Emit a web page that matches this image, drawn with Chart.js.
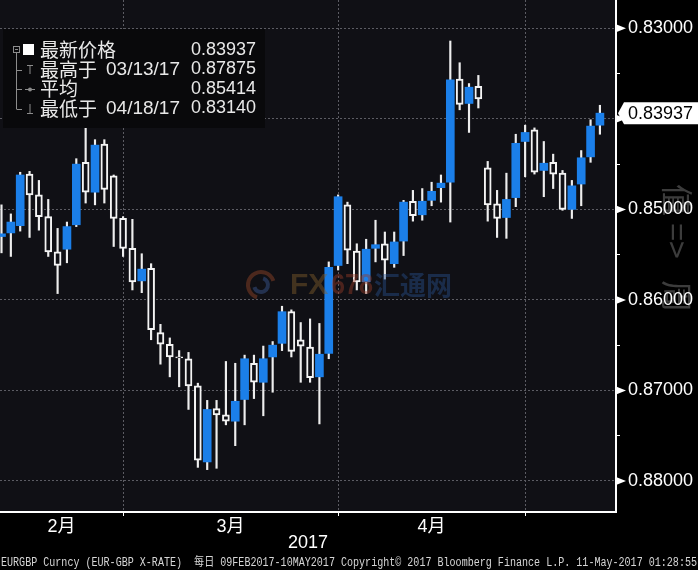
<!DOCTYPE html>
<html>
<head>
<meta charset="utf-8">
<script src="https://cdn.jsdelivr.net/npm/chart.js@4/dist/chart.umd.min.js"></script>
<style>
  html, body { margin: 0; padding: 0; background: #000; }
</style>
</head>
<body>
<canvas id="fxChart" width="698" height="570"></canvas>
<script>
////////// Data //////////
const dates = [
  '02/09', '02/10', '02/13', '02/14', '02/15', '02/16', '02/17', '02/20', '02/21', '02/22',
  '02/23', '02/24', '02/27', '02/28',
  '03/01', '03/02', '03/03', '03/06', '03/07', '03/08', '03/09', '03/10', '03/13', '03/14',
  '03/15', '03/16', '03/17', '03/20', '03/21', '03/22', '03/23', '03/24', '03/27', '03/28',
  '03/29', '03/30', '03/31',
  '04/03', '04/04', '04/05', '04/06', '04/07', '04/10', '04/11', '04/12', '04/13', '04/14',
  '04/17', '04/18', '04/19', '04/20', '04/21', '04/24', '04/25', '04/26', '04/27', '04/28',
  '05/01', '05/02', '05/03', '05/04', '05/05', '05/08', '05/09', '05/10'
]
const opens = [
  0.8530, 0.8526, 0.8518, 0.8461, 0.8484, 0.8508, 0.8547, 0.8544, 0.8517, 0.8448,
  0.8481, 0.8428, 0.8463, 0.8510, 0.8543, 0.8579, 0.8565, 0.8636, 0.8649, 0.8663,
  0.8665, 0.8695, 0.8779, 0.8720, 0.8727, 0.8734, 0.8710, 0.8670, 0.8691, 0.8663,
  0.8648, 0.8613, 0.8644, 0.8652, 0.8685, 0.8659, 0.8562, 0.8495, 0.8546, 0.8580,
  0.8543, 0.8538, 0.8560, 0.8535, 0.8491, 0.8506, 0.8490, 0.8476, 0.8470, 0.8356,
  0.8383, 0.8364, 0.8454, 0.8494, 0.8509, 0.8487, 0.8425, 0.8412, 0.8457, 0.8448,
  0.8460, 0.8500, 0.8472, 0.8442, 0.8407
]
const highs = [
  0.8548, 0.8552, 0.8524, 0.8531, 0.8523, 0.8552, 0.8593, 0.8559, 0.8519, 0.8493,
  0.8495, 0.8493, 0.8541, 0.8552, 0.8589, 0.8592, 0.8644, 0.8671, 0.8685, 0.8696,
  0.8721, 0.8785, 0.87875, 0.8786, 0.8738, 0.8761, 0.8738, 0.8709, 0.8728, 0.8702,
  0.8656, 0.8663, 0.8691, 0.8691, 0.8737, 0.8665, 0.8567, 0.8560, 0.8589, 0.8593,
  0.8558, 0.8577, 0.8564, 0.8551, 0.8513, 0.8512, 0.8496, 0.8492, 0.8514, 0.8390,
  0.8415, 0.8388, 0.8513, 0.8531, 0.8532, 0.8497, 0.8464, 0.8461, 0.8486, 0.8477,
  0.8501, 0.8510, 0.8496, 0.8448, 0.8417
]
const lows = [
  0.8495, 0.8505, 0.8459, 0.8458, 0.8468, 0.8489, 0.8521, 0.8514, 0.8444, 0.8403,
  0.8423, 0.8423, 0.8462, 0.8508, 0.8511, 0.8549, 0.8560, 0.8627, 0.8642, 0.8656,
  0.8658, 0.8692, 0.8711, 0.8711, 0.8668, 0.8670, 0.8661, 0.8661, 0.8651, 0.8646,
  0.8607, 0.8611, 0.8625, 0.8621, 0.8626, 0.8558, 0.8484, 0.8492, 0.8538, 0.8533,
  0.8512, 0.8525, 0.8525, 0.8490, 0.8479, 0.8477, 0.8470, 0.8462, 0.8314, 0.8338,
  0.8361, 0.8352, 0.8447, 0.8479, 0.8460, 0.8417, 0.8407, 0.8410, 0.8425, 0.8439,
  0.8457, 0.8468, 0.8435, 0.8401, 0.8385
]
const closes = [
  0.8527, 0.8514, 0.8462, 0.8484, 0.8508, 0.8547, 0.8562, 0.8519, 0.8450, 0.8481,
  0.8429, 0.8478, 0.8510, 0.8543, 0.8580, 0.8566, 0.8633, 0.8649, 0.8663, 0.8664,
  0.8695, 0.8777, 0.8721, 0.8727, 0.8734, 0.8712, 0.8665, 0.8691, 0.8665, 0.8650,
  0.8613, 0.8657, 0.8651, 0.8686, 0.8660, 0.8564, 0.8486, 0.8545, 0.8580, 0.8544,
  0.8539, 0.8556, 0.8536, 0.8492, 0.8507, 0.8491, 0.8480, 0.8471, 0.8357, 0.8384,
  0.8365, 0.8378, 0.8495, 0.8510, 0.8489, 0.8427, 0.8415, 0.8459, 0.8449, 0.8461,
  0.8500, 0.8474, 0.8443, 0.8408, 0.83937
]
const monthLabels = ['2月', '3月', '4月']
const priceTicks = [0.83, 0.84, 0.85, 0.86, 0.87, 0.88]
const legendRows = [
  ['最新价格', '', '0.83937'],
  ['最高于', '03/13/17', '0.87875'],
  ['平均', '', '0.85414'],
  ['最低于', '04/18/17', '0.83140']
]
const yearLabel = '2017'
const footerText = 'EURGBP Curncy (EUR-GBP X-RATE)  每日 09FEB2017-10MAY2017 Copyright© 2017 Bloomberg Finance L.P. 11-May-2017 01:28:55'

////////// Look //////////
const plotBg = '#101015'
const gridColor = '#5c5c63'
const upBlue = '#1b7fe9'
const latin = '"Liberation Sans", "Noto Sans CJK SC", sans-serif'
const cjk = '"Noto Sans CJK SC", "Liberation Sans", sans-serif'
const xMin = -0.16
const xMax = 65.72

// last trading day of each month -> dotted separators
const monthEnds = dates.map((d, i) => i).filter(i =>
  i < dates.length - 1 && dates[i].slice(0, 2) !== dates[i + 1].slice(0, 2))
const monthCenters = monthLabels.map((_, k) =>
  ((k === 0 ? xMin : monthEnds[k - 1]) + monthEnds[k]) / 2)
const minorTicks = priceTicks.slice(1).map((p, i) => (p + priceTicks[i]) / 2)

const isMonthEnd = v => monthEnds.some(m => Math.abs(m - v) < 1e-6)
const isMajor = v => priceTicks.some(p => Math.abs(p - v) < 1e-7)

const fallers = dates.map((d, i) => i).filter(i => closes[i] < opens[i])
const risers = dates.map((d, i) => i).filter(i => closes[i] >= opens[i])

noPadding = s => {
  s.paddingTop = 0
  s.paddingBottom = 0
  s.paddingLeft = 0
  s.paddingRight = 0
}

////////// Extra drawing //////////
drawBackground = chart => {
  const {ctx, chartArea: a} = chart
  ctx.save()
  ctx.fillStyle = '#000'
  ctx.fillRect(0, 0, chart.width, chart.height)
  ctx.fillStyle = plotBg
  ctx.fillRect(a.left, a.top, a.right - a.left, a.bottom - a.top)
  // faint rotated text on the right side
  ctx.translate(677, 184)
  ctx.rotate(Math.PI / 2)
  ctx.fillStyle = 'rgba(120, 120, 120, 0.5)'
  ctx.font = '32px ' + cjk
  ctx.textBaseline = 'middle'
  ctx.fillText('值 =>   周', 0, 0)
  ctx.restore()
}

drawWatermark = chart => {
  const ctx = chart.ctx
  ctx.save()
  ctx.lineWidth = 4
  ctx.strokeStyle = 'rgba(150, 70, 40, 0.45)'
  ctx.beginPath()
  ctx.arc(261, 285, 13, Math.PI * 0.6, Math.PI * 1.9)
  ctx.stroke()
  ctx.strokeStyle = 'rgba(60, 90, 150, 0.45)'
  ctx.beginPath()
  ctx.arc(261, 285, 7, Math.PI * 1.6, Math.PI * 2.9)
  ctx.stroke()
  ctx.textBaseline = 'middle'
  ctx.font = 'bold 30px ' + latin
  ctx.fillStyle = 'rgba(130, 95, 45, 0.45)'
  ctx.fillText('FX', 290, 286, 40)
  ctx.fillStyle = 'rgba(150, 60, 40, 0.45)'
  ctx.fillText('678', 331, 286, 42)
  ctx.font = 'bold 26px ' + cjk
  ctx.fillStyle = 'rgba(40, 80, 140, 0.45)'
  ctx.fillText('汇通网', 374, 285, 78)
  ctx.restore()
}

drawAxisMarks = chart => {
  const {ctx, chartArea: a} = chart
  const y = chart.scales.y
  ctx.save()
  ctx.fillStyle = '#fff'
  priceTicks.forEach(p => {
    const py = y.getPixelForValue(p)
    ctx.beginPath()
    ctx.moveTo(a.right, py - 4)
    ctx.lineTo(a.right + 10, py)
    ctx.lineTo(a.right, py + 4)
    ctx.closePath()
    ctx.fill()
  })
  ctx.restore()
}

drawPriceTag = chart => {
  const {ctx, chartArea: a} = chart
  const py = chart.scales.y.getPixelForValue(closes[closes.length - 1])
  ctx.save()
  ctx.fillStyle = '#fff'
  ctx.beginPath()
  ctx.moveTo(a.right + 2, py)
  ctx.lineTo(a.right + 8, py - 11)
  ctx.lineTo(chart.width, py - 11)
  ctx.lineTo(chart.width, py + 11)
  ctx.lineTo(a.right + 8, py + 11)
  ctx.closePath()
  ctx.fill()
  ctx.fillStyle = '#000'
  ctx.font = '18px ' + latin
  ctx.textBaseline = 'middle'
  ctx.fillText(closes[closes.length - 1].toFixed(5), a.right + 12, py + 1)
  ctx.restore()
}

drawLegend = chart => {
  const ctx = chart.ctx
  const rowY = [50, 69.5, 89, 108.5]
  ctx.save()
  ctx.fillStyle = '#09090b'
  ctx.fillRect(3, 29, 262, 99)

  // tree
  ctx.strokeStyle = '#8c8c8c'
  ctx.lineWidth = 1
  ctx.strokeRect(13.5, 46.5, 6, 6)
  ctx.beginPath()
  ctx.moveTo(15, 49.5); ctx.lineTo(18, 49.5)
  ctx.moveTo(16.5, 53); ctx.lineTo(16.5, 109)
  rowY.slice(1).forEach(ry => {
    ctx.moveTo(16.5, Math.round(ry) + 0.5); ctx.lineTo(22, Math.round(ry) + 0.5)
  })
  // high / average / low icons
  ctx.moveTo(27, 65.5); ctx.lineTo(33, 65.5)
  ctx.moveTo(30, 65.5); ctx.lineTo(30, 74)
  ctx.moveTo(25, 89.5); ctx.lineTo(35, 89.5)
  ctx.moveTo(30, 104); ctx.lineTo(30, 113)
  ctx.moveTo(27, 113.5); ctx.lineTo(33, 113.5)
  ctx.stroke()
  ctx.fillStyle = '#8c8c8c'
  ctx.beginPath()
  ctx.arc(30, 89.5, 2, 0, Math.PI * 2)
  ctx.fill()
  ctx.fillStyle = '#fff'
  ctx.fillRect(23, 44, 11, 11)

  // texts
  ctx.fillStyle = '#e8e8e8'
  ctx.textBaseline = 'middle'
  legendRows.forEach((row, i) => {
    ctx.textAlign = 'left'
    ctx.font = '19px ' + cjk
    ctx.fillText(row[0], 40, rowY[i])
    ctx.font = '19px ' + latin
    if (row[1]) ctx.fillText(row[1], 106, rowY[i])
    ctx.font = '18px ' + latin
    ctx.textAlign = 'right'
    ctx.fillText(row[2], 256, rowY[i])
  })
  ctx.restore()
}

drawFooter = chart => {
  const {ctx, chartArea: a} = chart
  ctx.save()
  ctx.fillStyle = '#fff'
  ctx.font = '18px ' + latin
  ctx.textAlign = 'center'
  ctx.textBaseline = 'middle'
  ctx.fillText(yearLabel, (a.left + a.right) / 2, 543)
  ctx.fillStyle = '#d6d6d6'
  ctx.font = '12px "Liberation Mono", "Noto Sans CJK SC", monospace'
  ctx.textAlign = 'left'
  ctx.fillText(footerText, 1, 563, 696)
  ctx.restore()
}

const bloombergLook = {
  id: 'bloombergLook',
  beforeDraw: drawBackground,
  afterDatasetsDraw: drawWatermark,
  afterDraw: chart => {
    drawAxisMarks(chart)
    drawPriceTag(chart)
    drawLegend(chart)
    drawFooter(chart)
  }
}

////////// Chart //////////
var ctx = document.getElementById('fxChart').getContext('2d')

var fxChart = new Chart(ctx, {
  type: 'bar',
  data: {
    datasets: [{
      label: 'rise',
      data: risers.map(i => ({x: i, y: [opens[i], closes[i]]})),
      backgroundColor: plotBg,
      borderColor: '#f4f4f4',
      borderWidth: 2,
      borderSkipped: false,
      barThickness: 7,
      minBarLength: 1,
      grouped: false,
      order: 1
    }, {
      label: 'fall',
      data: fallers.map(i => ({x: i, y: [opens[i], closes[i]]})),
      backgroundColor: upBlue,
      borderWidth: 0,
      barThickness: 8,
      grouped: false,
      order: 2
    }, {
      label: 'wick',
      data: dates.map((d, i) => ({x: i, y: [lows[i], highs[i]]})),
      backgroundColor: '#eeeeee',
      borderWidth: 0,
      barThickness: 1.5,
      grouped: false,
      order: 3
    }]
  },
  options: {
    responsive: false,
    animation: false,
    layout: { padding: 0 },
    plugins: {
      legend: { display: false },
      tooltip: { enabled: false }
    },
    scales: {
      x: {
        type: 'linear',
        min: xMin,
        max: xMax,
        offset: false,
        afterBuildTicks: s => {
          s.ticks = monthEnds.concat(monthCenters).sort((a, b) => a - b).map(v => ({value: v}))
        },
        afterFit: s => {
          s.height = 58
          noPadding(s)
        },
        grid: {
          offset: false,
          color: c => isMonthEnd(c.tick.value) ? gridColor : 'transparent',
          tickColor: c => isMonthEnd(c.tick.value) ? '#fff' : 'transparent',
          tickLength: 4
        },
        border: { color: '#fff', width: 2, dash: [2, 2] },
        ticks: {
          autoSkip: false,
          maxRotation: 0,
          padding: 0,
          color: '#fff',
          font: { size: 18, family: latin },
          callback: v => {
            const k = monthCenters.findIndex(c => Math.abs(c - v) < 1e-6)
            return k >= 0 ? monthLabels[k] : ''
          }
        }
      },
      y: {
        type: 'linear',
        position: 'right',
        reverse: true,
        beginAtZero: false,
        min: 0.82687,
        max: 0.88343,
        afterBuildTicks: s => {
          s.ticks = priceTicks.concat(minorTicks).sort((a, b) => a - b).map(v => ({value: v}))
        },
        afterFit: s => {
          s.width = 82
          noPadding(s)
        },
        grid: {
          color: c => isMajor(c.tick.value) ? gridColor : 'transparent',
          tickColor: c => isMajor(c.tick.value) ? 'transparent' : '#fff',
          tickLength: 4
        },
        border: { color: '#fff', width: 2, dash: [2, 2] },
        ticks: {
          padding: 8,
          color: '#fff',
          font: { size: 18, family: latin },
          callback: v => isMajor(v) ? v.toFixed(5) : ''
        }
      }
    }
  },
  plugins: [bloombergLook]
})
</script>
</body>
</html>
